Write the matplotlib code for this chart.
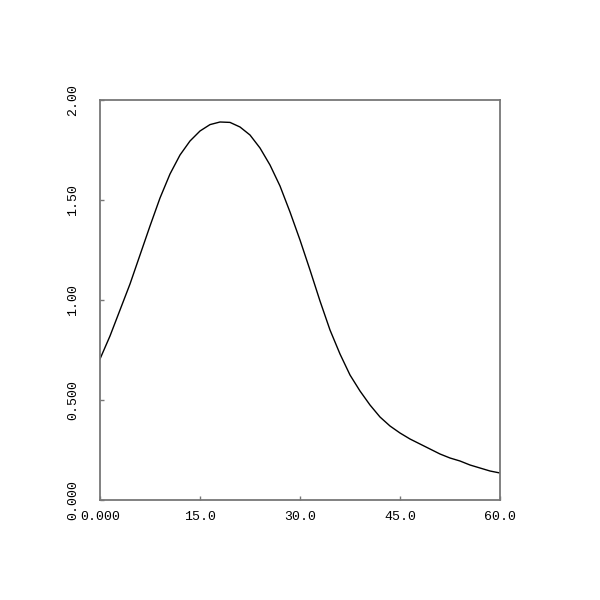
import matplotlib
matplotlib.use("Agg")
import matplotlib.pyplot as plt

# curve values
x_vals = [0.0, 1.5, 3.0, 4.5, 6.0, 7.5, 9.0, 10.5, 12.0, 13.5, 15.0, 16.5, 18.0,
          19.5, 21.0, 22.5, 24.0, 25.5, 27.0, 28.5, 30.0, 31.5, 33.0, 34.5, 36.0,
          37.5, 39.0, 40.5, 42.0, 43.5, 45.0, 46.5, 48.0, 49.5, 51.0, 52.5, 54.0,
          55.5, 57.0, 58.5, 60.0]
y_vals = [0.705, 0.82, 0.95, 1.08, 1.225, 1.37, 1.51, 1.63, 1.725, 1.795, 1.845, 1.877, 1.89,
          1.888, 1.865, 1.825, 1.76, 1.675, 1.57, 1.44, 1.30, 1.15, 0.995, 0.85, 0.73,
          0.625, 0.545, 0.475, 0.415, 0.37, 0.335, 0.305, 0.28, 0.255, 0.23, 0.21, 0.195,
          0.175, 0.16, 0.145, 0.135]

x_ticks = [0, 15, 30, 45, 60]
x_tick_labels = ["0.000", "15.0", "30.0", "45.0", "60.0"]
y_ticks = [0.0, 0.5, 1.0, 1.5, 2.0]
y_tick_labels = ["0.000", "0.500", "1.00", "1.50", "2.00"]

axis_grey = "#777777"

fig = plt.figure(figsize=(6, 6), dpi=100)
ax = fig.add_axes([100 / 600, 100 / 600, 400 / 600, 400 / 600])

ax.plot(x_vals, y_vals, color="black", lw=1.0)

ax.set_xlim(0, 60)
ax.set_ylim(0, 2)

for s in ax.spines.values():
    s.set_color(axis_grey)
    s.set_linewidth(1.3)

ax.set_xticks(x_ticks)
ax.set_xticklabels(x_tick_labels, family="Liberation Mono", fontsize=9.5)
ax.set_yticks(y_ticks)
ax.set_yticklabels(y_tick_labels, family="Liberation Mono", fontsize=9.5,
                   rotation=90, va="center")

ax.tick_params(axis="both", direction="in", length=3, width=1.0, color=axis_grey)
ax.tick_params(axis="x", pad=8)
ax.tick_params(axis="y", pad=15)

fig.savefig("out.png", dpi=100)
